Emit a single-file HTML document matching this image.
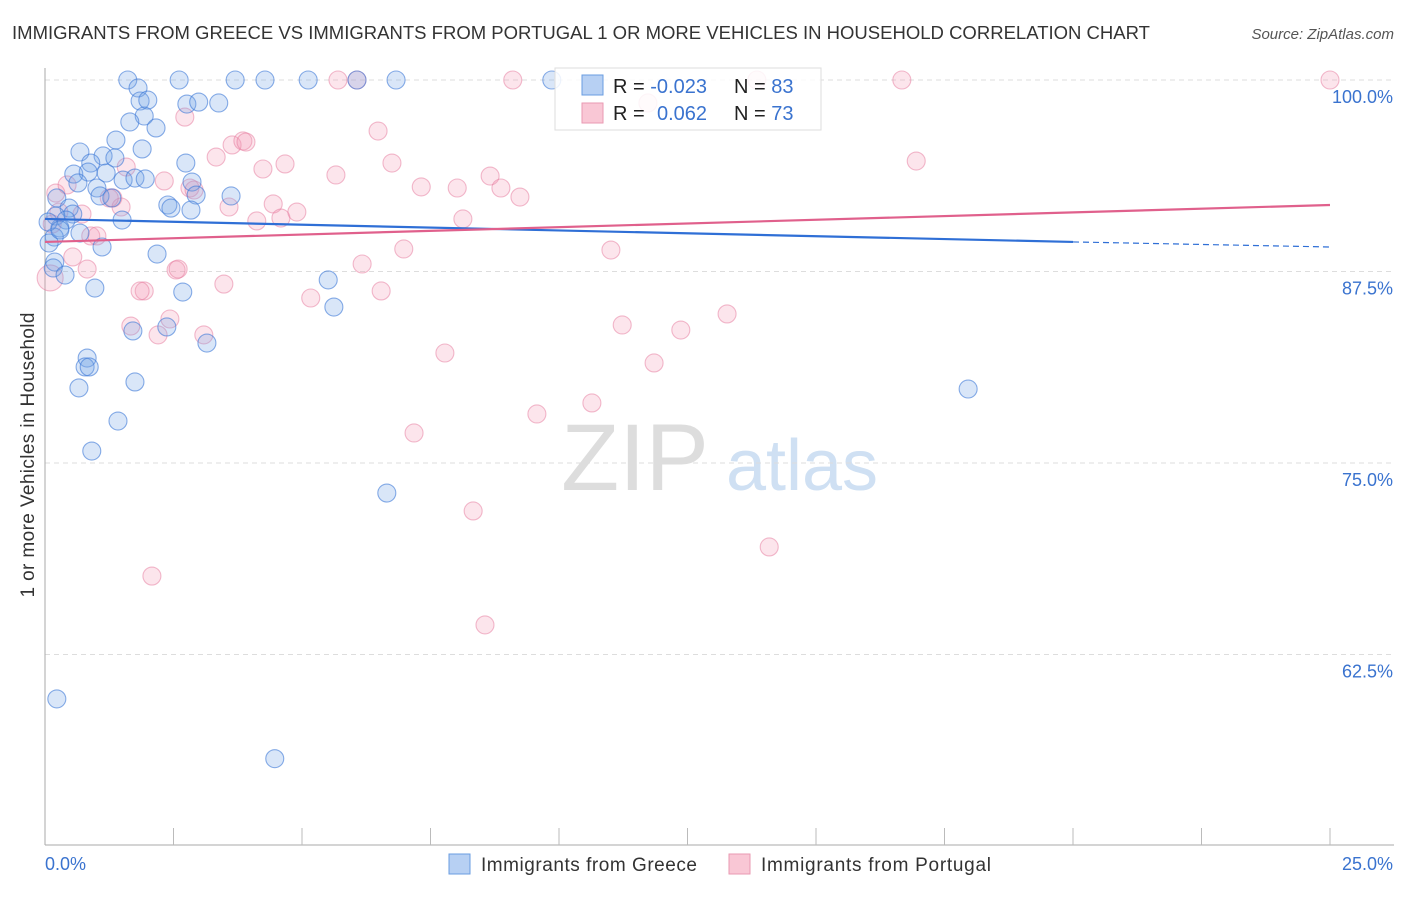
<!DOCTYPE html>
<html><head><meta charset="utf-8">
<style>
body{margin:0;background:#fff;font-family:"Liberation Sans",sans-serif;}
svg text{font-family:"Liberation Sans",sans-serif;}
</style></head>
<body>
<svg id="chart" width="1406" height="892" xmlns="http://www.w3.org/2000/svg">
<text x="12" y="39" font-size="18" fill="#333" textLength="1138" lengthAdjust="spacingAndGlyphs">IMMIGRANTS FROM GREECE VS IMMIGRANTS FROM PORTUGAL 1 OR MORE VEHICLES IN HOUSEHOLD CORRELATION CHART</text>
<text x="1394" y="39" font-size="15" fill="#555" font-style="italic" text-anchor="end">Source: ZipAtlas.com</text>
<text x="34" y="455" font-size="19" fill="#333" text-anchor="middle" textLength="285" transform="rotate(-90 34 455)">1 or more Vehicles in Household</text>
<g>
<text x="635" y="490" font-size="95" fill="#ddd" text-anchor="middle" font-family="Liberation Serif, serif">ZIP</text>
<text x="802" y="490" font-size="72" fill="#cfe0f3" text-anchor="middle">atlas</text>
</g>
<g id="grid"></g><g id="axes"></g><g id="pts"></g><g id="trend"></g>
<g>
<rect x="555" y="68" width="266" height="62" fill="#fff" fill-opacity="0.85" stroke="#ddd"/>
<rect x="582" y="75" width="21" height="20" fill="#b7d0f3" stroke="#6a9de0"/>
<rect x="582" y="103" width="21" height="20" fill="#f9c7d5" stroke="#e99ab2"/>
<text x="613" y="93" font-size="20" fill="#222">R = <tspan fill="#3a73cf">-0.023</tspan></text>
<text x="734" y="93" font-size="20" fill="#222">N = <tspan fill="#3a73cf">83</tspan></text>
<text x="613" y="120" font-size="20" fill="#222">R = <tspan fill="#3a73cf" x="657">0.062</tspan></text>
<text x="734" y="120" font-size="20" fill="#222">N = <tspan fill="#3a73cf">73</tspan></text>
</g>
<g>
<rect x="449" y="854" width="21" height="20" fill="#b7d0f3" stroke="#6a9de0"/>
<text x="481" y="871" font-size="19" fill="#333" textLength="216">Immigrants from Greece</text>
<rect x="729" y="854" width="21" height="20" fill="#f9c7d5" stroke="#e99ab2"/>
<text x="761" y="871" font-size="19" fill="#333" textLength="230">Immigrants from Portugal</text>
</g>
</svg>
<script>
const yTicks=[100,87.5,75,62.5];
const yTickLabels=["100.0%","87.5%","75.0%","62.5%"];
const xEndLabels=["0.0%","25.0%"];
const greeceX=[1.61,2.61,3.70,4.28,5.12,6.07,6.83,9.86,1.81,1.85,2.00,2.76,2.99,3.38,1.93,1.65,2.16,1.38,1.89,0.68,1.13,1.36,0.89,2.74,0.56,0.84,1.19,0.64,1.01,1.52,1.75,1.95,2.86,1.07,1.30,2.94,3.62,2.39,2.45,2.84,0.23,0.47,0.54,0.21,0.41,1.50,0.29,0.68,0.18,0.08,1.11,2.18,0.19,0.16,0.39,0.97,2.68,5.51,5.62,1.71,2.37,3.15,0.82,0.78,0.86,0.66,1.75,1.42,0.91,6.65,17.96,0.23,4.47,0.06,0.29];
const greeceY=[100,100,100,100,100,100,100,100,99.48,98.63,98.69,98.43,98.56,98.50,97.65,97.26,96.87,96.08,95.50,95.30,95.04,94.91,94.58,94.58,93.86,93.99,93.93,93.28,92.95,93.47,93.60,93.54,93.34,92.43,92.30,92.49,92.43,91.84,91.64,91.51,92.30,91.64,91.25,91.12,90.86,90.86,90.34,90.01,89.75,89.36,89.10,88.64,88.12,87.73,87.27,86.42,86.16,86.95,85.18,83.62,83.88,82.83,81.85,81.27,81.27,79.90,80.29,77.74,75.78,73.04,79.83,59.6,55.7,90.73,90.21];
const portugalX=[0.10,0.21,0.43,0.72,0.89,0.82,1.32,1.48,1.58,2.32,2.55,2.72,2.82,2.90,3.33,3.64,3.85,3.91,3.58,4.12,4.24,4.67,4.44,4.59,4.90,3.48,5.17,5.66,6.07,5.70,6.48,6.75,6.17,6.54,6.98,7.18,7.32,8.02,8.13,8.33,8.56,8.66,8.87,9.10,9.24,9.57,10.64,11.01,11.23,7.78,11.73,11.85,12.37,13.27,13.85,14.09,16.67,16.95,25.0,1.67,2.20,2.43,2.59,3.09,1.93,1.85,2.08,1.25,1.01,0.27,0.54,0.14];
const portugalY=[87.08,92.62,93.15,91.25,89.82,87.66,92.30,91.71,94.32,93.41,87.60,97.58,92.95,92.82,94.97,95.76,96.02,95.95,91.71,90.80,94.19,94.52,91.91,90.99,91.38,86.68,85.77,93.80,100,100,96.67,94.58,87.99,86.23,88.97,76.96,93.02,92.95,90.93,71.87,64.43,93.73,92.95,100,92.36,78.20,78.92,88.90,84.01,82.18,98.50,81.53,83.68,84.73,100,69.52,100,94.71,100,83.94,83.36,84.40,87.66,83.36,86.23,86.23,67.62,92.30,89.82,91.38,88.45,90.60];
const greeceTrend=[90.93,89.43,89.10]; // at x=0,20,25
const portugalTrend=[89.43,91.84]; // at x=0,25
const X=v=>45+v/25*1285;
const Y=v=>80+(100-v)/12.5*191.5;
const NS="http://www.w3.org/2000/svg";
function mk(tag,attrs,parent){const e=document.createElementNS(NS,tag);for(const k in attrs)e.setAttribute(k,attrs[k]);document.getElementById(parent).appendChild(e);return e;}
yTicks.forEach((t,i)=>{
 const l=mk('line',{x1:45,x2:1394,y1:Y(t),y2:Y(t),stroke:'#ddd','stroke-dasharray':'5,4'},'grid');
 
 
 const tx=mk('text',{x:1393,y:Y(t)+23,'font-size':18,fill:'#3a73cf','text-anchor':'end'},'axes');
 tx.textContent=yTickLabels[i];
 
 
});
const ax=mk('line',{x1:45,x2:45,y1:68,y2:845,stroke:'#aaa'},'axes');


const bx=mk('line',{x1:45,x2:1394,y1:845,y2:845,stroke:'#aaa'},'axes');


for(let i=1;i<=10;i++){const v=i*2.5;const t=mk('line',{x1:X(v),x2:X(v),y1:828,y2:845,stroke:'#bbb'},'axes');
 
 }
[[0,'start',45],[25,'end',1393]].forEach((a,i)=>{const t=mk('text',{x:a[2],y:870,'font-size':18,fill:'#3a73cf','text-anchor':a[1]},'axes');t.textContent=xEndLabels[i];
 
 });
portugalX.forEach((x,i)=>{const c=mk('circle',{cx:X(x),cy:Y(portugalY[i]),r:i==0?13:9,fill:'rgba(244,150,180,0.25)',stroke:'rgba(230,120,155,0.5)','stroke-width':1.1},'pts');
 
 });
greeceX.forEach((x,i)=>{const c=mk('circle',{cx:X(x),cy:Y(greeceY[i]),r:9,fill:'rgba(120,165,230,0.28)',stroke:'rgba(60,120,215,0.6)','stroke-width':1.1},'pts');
 
 });
const g1=mk('line',{x1:X(0),y1:Y(greeceTrend[0]),x2:X(20),y2:Y(greeceTrend[1]),stroke:'#2f6fd6','stroke-width':2.2},'trend');


const g2=mk('line',{x1:X(20),y1:Y(greeceTrend[1]),x2:X(25),y2:Y(greeceTrend[2]),stroke:'#2f6fd6','stroke-width':1.2,'stroke-dasharray':'6,4'},'trend');


const p1=mk('line',{x1:X(0),y1:Y(portugalTrend[0]),x2:X(25),y2:Y(portugalTrend[1]),stroke:'#e0608c','stroke-width':2.2},'trend');


</script>
</body></html>
